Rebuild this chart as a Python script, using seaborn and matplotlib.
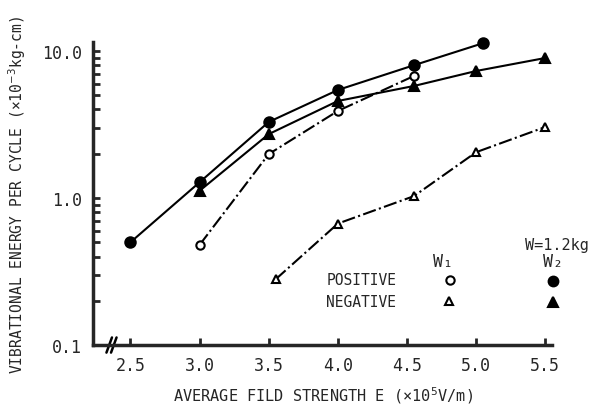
import numpy as np
import pandas as pd
import seaborn as sns
import matplotlib
matplotlib.use("Agg")
import matplotlib.pyplot as plt

# values
x_pos_w2 = [2.5, 3.0, 3.5, 4.0, 4.55, 5.05]
y_pos_w2 = [0.50, 1.28, 3.29, 5.43, 8.0, 11.3]

x_neg_w2 = [3.0, 3.5, 4.0, 4.55, 5.0, 5.5]
y_neg_w2 = [1.12, 2.72, 4.57, 5.78, 7.31, 8.96]

x_pos_w1 = [3.0, 3.5, 4.0, 4.55]
y_pos_w1 = [0.48, 1.99, 3.91, 6.76]

x_neg_w1 = [3.55, 4.0, 4.55, 5.0, 5.5]
y_neg_w1 = [0.28, 0.67, 1.03, 2.05, 3.04]

x_ticks = [2.5, 3.0, 3.5, 4.0, 4.5, 5.0, 5.5]
y_ticks = [0.1, 1.0, 10.0]
y_tick_labels = ["0.1", "1.0", "10.0"]

sns.set_style("ticks")
plt.rcParams['font.family'] = ['DejaVu Sans Mono', 'DejaVu Sans']

fig = plt.figure(figsize=(5.97, 4.10), dpi=100)
ax = fig.add_axes([0.156, 0.156, 0.769, 0.739])

# (x, y, linestyle, marker, filled, size)
series = [
    (x_pos_w2, y_pos_w2, '-', 'o', True, 7.5),
    (x_neg_w2, y_neg_w2, '-', '^', True, 7),
    (x_pos_w1, y_pos_w1, '-.', 'o', False, 6),
    (x_neg_w1, y_neg_w1, '-.', '^', False, 6),
]
for xs, ys, ls, mk, filled, ms in series:
    df = pd.DataFrame({'E': xs, 'energy': ys})
    sns.lineplot(data=df, x='E', y='energy', ax=ax, color='black', linestyle=ls,
                 linewidth=1.5, marker=mk, markersize=ms, sort=False,
                 markerfacecolor='black' if filled else 'white',
                 markeredgecolor='black', markeredgewidth=1.5, clip_on=False)

ax.set_yscale('log')
ax.set_ylim(0.1, 11.5)
ax.set_xlim(2.23, 5.55)
ax.set_xticks(x_ticks)
ax.set_xticklabels([f"{v:.1f}" for v in x_ticks], fontsize=12)
ax.set_yticks(y_ticks)
ax.set_yticklabels(y_tick_labels, fontsize=12)
ax.tick_params(axis='both', which='major', direction='in', length=5, width=2, pad=8)
ax.tick_params(axis='y', which='minor', direction='in', length=5, width=2)
ax.tick_params(axis='x', which='minor', length=0)

sns.despine(ax=ax)
for s in ['left', 'bottom']:
    ax.spines[s].set_linewidth(2.5)

ax.set_xlabel("AVERAGE FILD STRENGTH E (×10$^5$V/m)", fontsize=11, labelpad=7)
ax.set_ylabel("VIBRATIONAL ENERGY PER CYCLE (×10$^{-3}$kg-cm)", fontsize=10.5, labelpad=10)

# axis break mark
for dx in [0.035, 0.045]:
    ax.plot([dx - 0.006, dx + 0.006], [-0.025, 0.025], transform=ax.transAxes,
            color='black', lw=1.8, clip_on=False)

# legend block
ax.text(1.08, 0.333, "W=1.2kg", transform=ax.transAxes, ha='right', va='center', fontsize=11)
ax.text(0.763, 0.278, "W₁", transform=ax.transAxes, ha='center', va='center', fontsize=12)
ax.text(1.002, 0.278, "W₂", transform=ax.transAxes, ha='center', va='center', fontsize=12)
ax.text(0.508, 0.215, "POSITIVE", transform=ax.transAxes, ha='left', va='center', fontsize=10.5)
ax.text(0.508, 0.143, "NEGATIVE", transform=ax.transAxes, ha='left', va='center', fontsize=10.5)
keys = [(0.778, 0.216, 'o', False), (1.002, 0.213, 'o', True),
        (0.776, 0.145, '^', False), (1.002, 0.142, '^', True)]
for kx, ky, mk, filled in keys:
    ax.plot(kx, ky, marker=mk, markersize=6 if not filled else 7, transform=ax.transAxes,
            markerfacecolor='black' if filled else 'white', markeredgecolor='black',
            markeredgewidth=1.5, clip_on=False, linestyle='none')

fig.savefig("out.png", dpi=100)
